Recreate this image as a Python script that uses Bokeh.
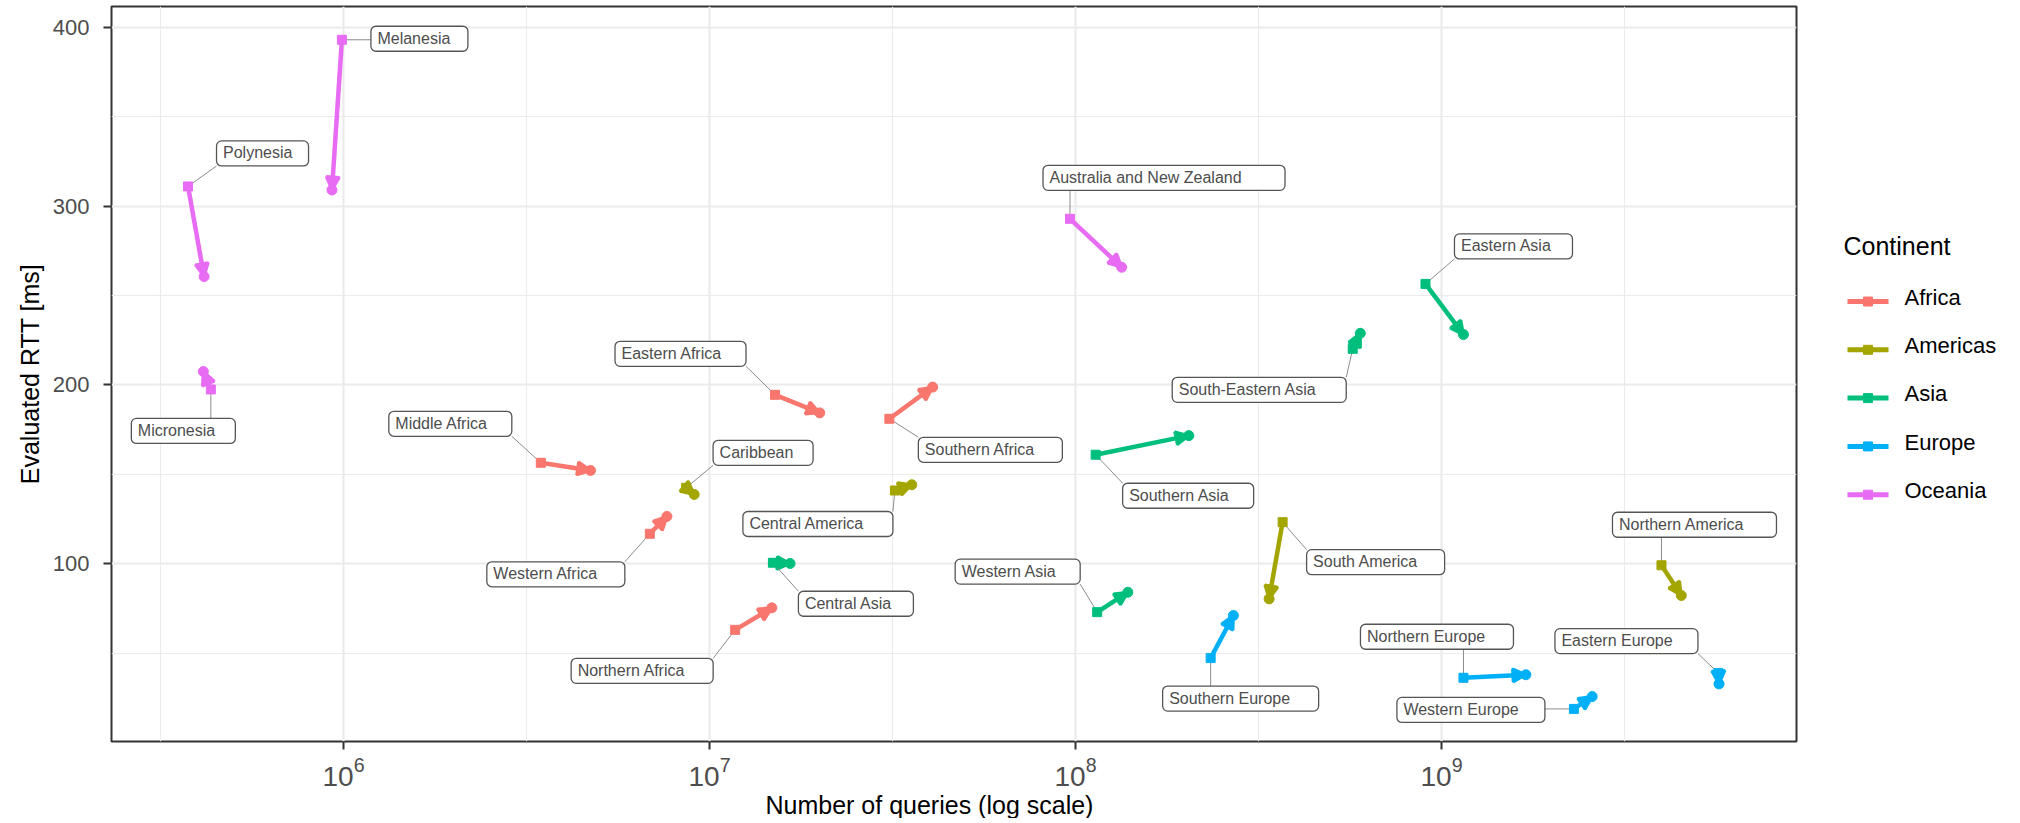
import math
from bokeh.plotting import figure
from bokeh.layouts import row
from bokeh.models import (ColumnDataSource, Range1d, FixedTicker, Arrow, NormalHead,
                          LogTickFormatter, Title)
from bokeh.embed import file_html
from bokeh.resources import INLINE
from bokeh.core.properties import value

# ---------------- data ----------------
continents = ["Africa", "Americas", "Asia", "Europe", "Oceania"]
continent_colors = ["#F8766D", "#A3A500", "#00BF7D", "#00B0F6", "#E76BF3"]

regions = ["Melanesia", "Polynesia", "Micronesia", "Australia and New Zealand",
           "Eastern Africa", "Southern Africa", "Middle Africa", "Western Africa", "Northern Africa",
           "Caribbean", "Central America", "South America", "Northern America",
           "Central Asia", "Southern Asia", "Western Asia", "South-Eastern Asia", "Eastern Asia",
           "Southern Europe", "Northern Europe", "Western Europe", "Eastern Europe"]
region_continent = (["Oceania"] * 4 + ["Africa"] * 5 + ["Americas"] * 4 +
                    ["Asia"] * 5 + ["Europe"] * 4)

# start of arrow (square) and end of arrow (circle)
queries_start = [0.99e6, 3.76e5, 4.34e5, 9.66e7,
                 1.51e7, 3.10e7, 3.46e6, 6.87e6, 1.175e7,
                 8.63e6, 3.21e7, 3.68e8, 3.99e9,
                 1.49e7, 1.135e8, 1.146e8, 5.72e8, 9.04e8,
                 2.34e8, 1.148e9, 2.30e9, 5.71e9]
queries_end = [0.93e6, 4.16e5, 4.14e5, 1.337e8,
               2.00e7, 4.07e7, 4.73e6, 7.65e6, 1.48e7,
               9.08e6, 3.57e7, 3.38e8, 4.52e9,
               1.66e7, 2.04e8, 1.39e8, 6.00e8, 1.148e9,
               2.70e8, 1.70e9, 2.58e9, 5.73e9]
rtt_start = [393.0, 311.0, 197.5, 292.9,
             194.5, 181.1, 156.5, 116.8, 63.1,
             142.5, 141.0, 123.3, 99.2,
             100.6, 161.0, 73.0, 220.2, 256.5,
             47.3, 36.3, 18.9, 38.9]
rtt_end = [309.0, 260.6, 207.5, 265.8,
           184.4, 198.8, 152.2, 126.5, 75.4,
           138.8, 144.2, 80.4, 82.3,
           100.2, 171.7, 84.1, 228.9, 228.2,
           71.1, 38.0, 25.8, 32.9]

x_major_ticks = [1e6, 1e7, 1e8, 1e9]
x_minor_ticks = [10 ** 5.5, 10 ** 6.5, 10 ** 7.5, 10 ** 8.5, 10 ** 9.5]
y_major_ticks = [100, 200, 300, 400]
y_minor_ticks = [50, 150, 250, 350]

# ---------------- layout (label boxes in screen pixels, relative to square) ----------------
# (dx to box left, dy to box vertical centre [down positive], box width)
label_layout = [(29, -1, 97), (28.5, -33, 92), (-79.5, 41.5, 104), (-27, -41, 242),
                (-160, -41, 131), (29, 31, 144), (-152, -39, 123), (-163, 40.5, 138), (-164, 41, 142),
                (27, -35, 100), (-152, 33.5, 150), (24, 40, 138), (-49, -40.5, 164),
                (25.5, 41, 115), (27, 41, 131), (-142, -40.5, 125), (-180.5, 41, 174), (29, -37.5, 118),
                (-48, 40.5, 156), (-103, -41, 153), (-177, 1, 148), (-163.5, -32, 143)]
BOX_H = 25
TEXT_PAD = 6.5
LABEL_FS = 16
LABEL_FIX = 0.03  # upward correction (in em) for the label texts
MID_FIX = 0.2     # upward correction (in em) for the legend texts

FONT = "Liberation Sans"
X_MIN_LOG, X_MAX_LOG = 5.3661, 9.9699
Y_MIN, Y_MAX = 0.67, 411.6
FRAME_W, FRAME_H = 1685, 735
FRAME_LEFT, FRAME_TOP = 111, 6
PX_DEC = FRAME_W / (X_MAX_LOG - X_MIN_LOG)
PX_MS = FRAME_H / (Y_MAX - Y_MIN)

p = figure(x_axis_type="log", frame_width=FRAME_W, frame_height=FRAME_H,
           x_range=Range1d(10 ** X_MIN_LOG, 10 ** X_MAX_LOG), y_range=Range1d(Y_MIN, Y_MAX),
           output_backend="svg", toolbar_location=None,
           min_border_left=FRAME_LEFT, min_border_top=FRAME_TOP, min_border_right=4,
           min_border_bottom=0)
p.background_fill_color = "white"
p.border_fill_color = "white"
p.outline_line_color = "#333333"
p.outline_line_width = 2

# axes
p.xaxis.ticker = FixedTicker(ticks=x_major_ticks, minor_ticks=[])
p.xaxis.formatter = LogTickFormatter()
p.yaxis.ticker = FixedTicker(ticks=y_major_ticks, minor_ticks=[])
for ax in (p.xaxis[0], p.yaxis[0]):
    ax.axis_line_color = None
    ax.major_tick_line_color = "#333333"
    ax.major_tick_line_width = 2
    ax.major_tick_out = 8
    ax.major_tick_in = 0
    ax.minor_tick_line_color = None
    ax.major_label_text_font = FONT
    ax.major_label_text_color = "#4D4D4D"
p.xaxis.major_label_text_font_size = "28px"
p.yaxis.major_label_text_font_size = "22px"
p.xaxis.major_label_standoff = 7
p.yaxis.major_label_standoff = 14

# axis titles
xt = Title(text="Number of queries (log scale)", align="left", offset=654, standoff=0,
           text_font=FONT, text_font_size="25px", text_font_style="normal", text_color="#000000")
p.add_layout(xt, "below")
yt = Title(text="Evaluated RTT [ms]", align="center", standoff=12,
           text_font=FONT, text_font_size="25px", text_font_style="normal", text_color="#000000")
p.add_layout(yt, "left")

# grids
p.xgrid.ticker = FixedTicker(ticks=x_major_ticks, minor_ticks=x_minor_ticks)
p.ygrid.ticker = FixedTicker(ticks=y_major_ticks, minor_ticks=y_minor_ticks)
for g in (p.xgrid[0], p.ygrid[0]):
    g.grid_line_color = "#EBEBEB"
    g.grid_line_width = 2.2
    g.minor_grid_line_color = "#EBEBEB"
    g.minor_grid_line_width = 1.1

# ---------------- label geometry (computed from layout) ----------------
lead = dict(x0=[], y0=[], x1=[], y1=[])
box = dict(left=[], right=[], top=[], bottom=[])
txt = dict(x=[], y=[], text=[])
for name, q0, r0, (dx, dy, w) in zip(regions, queries_start, rtt_start, label_layout):
    lx = math.log10(q0)
    cy_ms = r0 - dy / PX_MS
    box["left"].append(10 ** (lx + dx / PX_DEC))
    box["right"].append(10 ** (lx + (dx + w) / PX_DEC))
    box["top"].append(cy_ms + (BOX_H / 2) / PX_MS)
    box["bottom"].append(cy_ms - (BOX_H / 2) / PX_MS)
    txt["x"].append(10 ** (lx + (dx + TEXT_PAD) / PX_DEC))
    txt["y"].append(cy_ms + LABEL_FIX * LABEL_FS / PX_MS)
    txt["text"].append(name)
    nx = min(max(0, dx), dx + w)
    ny = min(max(0, dy - BOX_H / 2), dy + BOX_H / 2)
    lead["x0"].append(q0)
    lead["y0"].append(r0)
    lead["x1"].append(10 ** (lx + nx / PX_DEC))
    lead["y1"].append(r0 - ny / PX_MS)

p.segment("x0", "y0", "x1", "y1", source=ColumnDataSource(lead),
          line_color="#8C8C8C", line_width=1)

# ---------------- arrows ----------------
for cont, color in zip(continents, continent_colors):
    idx = [i for i, c in enumerate(region_continent) if c == cont]
    src = ColumnDataSource(dict(
        x0=[queries_start[i] for i in idx], y0=[rtt_start[i] for i in idx],
        x1=[queries_end[i] for i in idx], y1=[rtt_end[i] for i in idx]))
    arr = Arrow(end=NormalHead(size=13, fill_color=color, line_color=color, line_width=3),
                x_start="x0", y_start="y0", x_end="x1", y_end="y1", source=src,
                line_color=color, line_alpha=0.0, level="underlay")
    p.add_layout(arr)
    p.segment("x0", "y0", "x1", "y1", source=src, line_color=color, line_width=4.5)
    p.scatter("x0", "y0", source=src, marker="square", size=9, color=color)
    p.scatter("x1", "y1", source=src, marker="circle", size=10, color=color)

# ---------------- label boxes and texts ----------------
try:
    p.quad(left="left", right="right", top="top", bottom="bottom", source=ColumnDataSource(box),
           fill_color="white", line_color="#555555", line_width=1.3, border_radius=5)
except Exception:
    p.quad(left="left", right="right", top="top", bottom="bottom", source=ColumnDataSource(box),
           fill_color="white", line_color="#555555", line_width=1.3)
p.text(x="x", y="y", text="text", source=ColumnDataSource(txt),
       text_font=value(FONT), text_font_size=value(f"{LABEL_FS}px"), text_color="#4D4D4D",
       text_align="left", text_baseline="middle")

# ---------------- legend (separate panel, coordinates in pixels) ----------------
LEG_W, LEG_H = 214, 741
lf = figure(frame_width=LEG_W, frame_height=LEG_H, x_range=Range1d(0, LEG_W),
            y_range=Range1d(LEG_H, 0), output_backend="svg", toolbar_location=None,
            x_axis_location=None, y_axis_location=None, min_border=0)
lf.grid.visible = False
lf.outline_line_color = None
lf.background_fill_color = "white"
lf.border_fill_color = "white"

LEG_TITLE_X, LEG_TITLE_Y = 43, 244
LEG_KEY_X0, LEG_KEY_X1, LEG_TEXT_X = 47, 88, 104
LEG_ROW0, LEG_PITCH = 295, 48.3
LEG_TITLE_FS, LEG_LABEL_FS = 25, 22
key_y = [LEG_ROW0 + k * LEG_PITCH for k in range(len(continents))]
lf.text(x=[LEG_TITLE_X], y=[LEG_TITLE_Y - MID_FIX * LEG_TITLE_FS], text=["Continent"],
        text_font=value(FONT), text_font_size=value(f"{LEG_TITLE_FS}px"), text_color="#000000",
        text_align="left", text_baseline="middle")
n = len(continents)
lsrc = ColumnDataSource(dict(x0=[LEG_KEY_X0] * n, x1=[LEG_KEY_X1] * n,
                             xm=[(LEG_KEY_X0 + LEG_KEY_X1) / 2] * n,
                             xt=[LEG_TEXT_X] * n, y=key_y,
                             yt=[k - MID_FIX * LEG_LABEL_FS for k in key_y],
                             color=continent_colors, label=continents))
lf.segment("x0", "y", "x1", "y", source=lsrc, line_color="color", line_width=5)
lf.scatter("xm", "y", source=lsrc, marker="square", size=9, color="color")
lf.text(x="xt", y="yt", text="label", source=lsrc, text_font=value(FONT),
        text_font_size=value(f"{LEG_LABEL_FS}px"), text_color="#000000", text_align="left",
        text_baseline="middle")

layout = row(p, lf)
open("out.html", "w").write(file_html(layout, INLINE))
